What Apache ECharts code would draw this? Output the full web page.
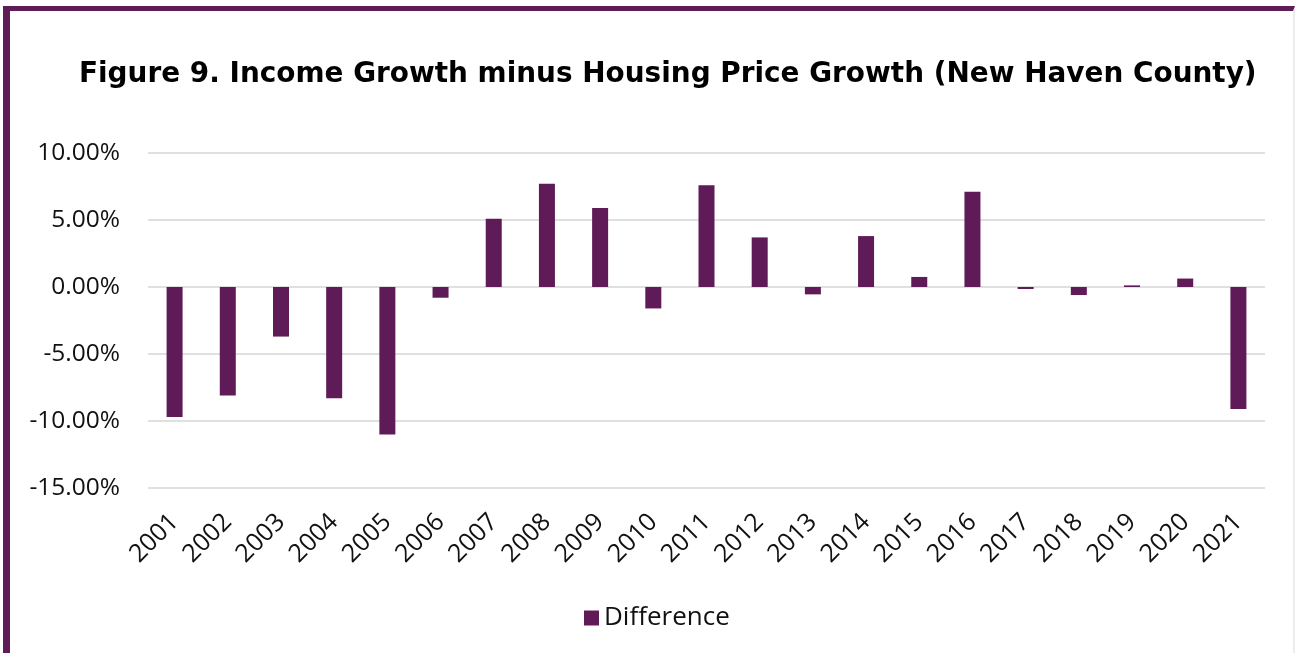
<!DOCTYPE html>
<html>
<head>
<meta charset="utf-8">
<script src="https://cdn.jsdelivr.net/npm/echarts@6/dist/echarts.min.js"></script>
<style>
html, body { margin: 0; padding: 0; background: #fff; }
.frame {
  position: absolute; left: 3px; top: 6px; width: 1283px; height: 660px;
  border-top: 5px solid #5f1d57; border-left: 7px solid #5f1d57;
  border-right: 2px solid #ececec;
}
#chart { position: absolute; left: 0; top: 0; width: 1299px; height: 653px; }
</style>
</head>
<body>
<div class="frame"></div>
<div id="chart"></div>
<script>
// year labels along the bottom
const years = ['2001','2002','2003','2004','2005','2006','2007','2008','2009','2010','2011',
  '2012','2013','2014','2015','2016','2017','2018','2019','2020','2021'];
// income growth minus housing price growth, in percent
const difference = [-9.7, -8.1, -3.7, -8.3, -11.0, -0.8, 5.1, 7.7, 5.9, -1.6, 7.6,
  3.7, -0.55, 3.8, 0.75, 7.1, -0.15, -0.6, 0.12, 0.63, -9.1];

const labelFont = "'Open Sans', sans-serif";

const chart = echarts.init(document.getElementById('chart'));
const option = {
  backgroundColor: 'transparent',
  animation: false,
  title: {
    text: 'Figure 9. Income Growth minus Housing Price Growth (New Haven County)',
    left: 74,
    top: 56,
    textStyle: { fontFamily: "'DejaVu Sans', sans-serif", fontWeight: 'bold', fontSize: 27.9, color: '#000' }
  },
  legend: {
    top: 600,
    left: 579,
    itemWidth: 15,
    itemHeight: 15,
    itemGap: 6,
    icon: 'rect',
    textStyle: { fontFamily: labelFont, fontSize: 26, color: '#111' },
    data: ['Difference']
  },
  grid: { left: 148, right: 34, top: 153, bottom: 165 },
  xAxis: {
    type: 'category',
    data: years,
    axisLine: { show: false, onZero: false },
    axisTick: { show: false },
    axisLabel: {
      rotate: 45, margin: 30, interval: 0,
      fontFamily: labelFont, fontSize: 25, color: '#111'
    }
  },
  yAxis: {
    type: 'value',
    min: -15, max: 10, interval: 5,
    axisLine: { show: false },
    axisTick: { show: false },
    splitLine: { lineStyle: { color: '#d6d6d6', width: 1.5 } },
    axisLabel: {
      margin: 28,
      fontFamily: labelFont, fontSize: 24.5, color: '#111',
      formatter: v => v.toFixed(2) + '%'
    }
  },
  series: [{
    name: 'Difference',
    type: 'bar',
    data: difference,
    barWidth: 16,
    itemStyle: { color: '#5f1b57' }
  }]
};
chart.setOption(option);
</script>
</body>
</html>
